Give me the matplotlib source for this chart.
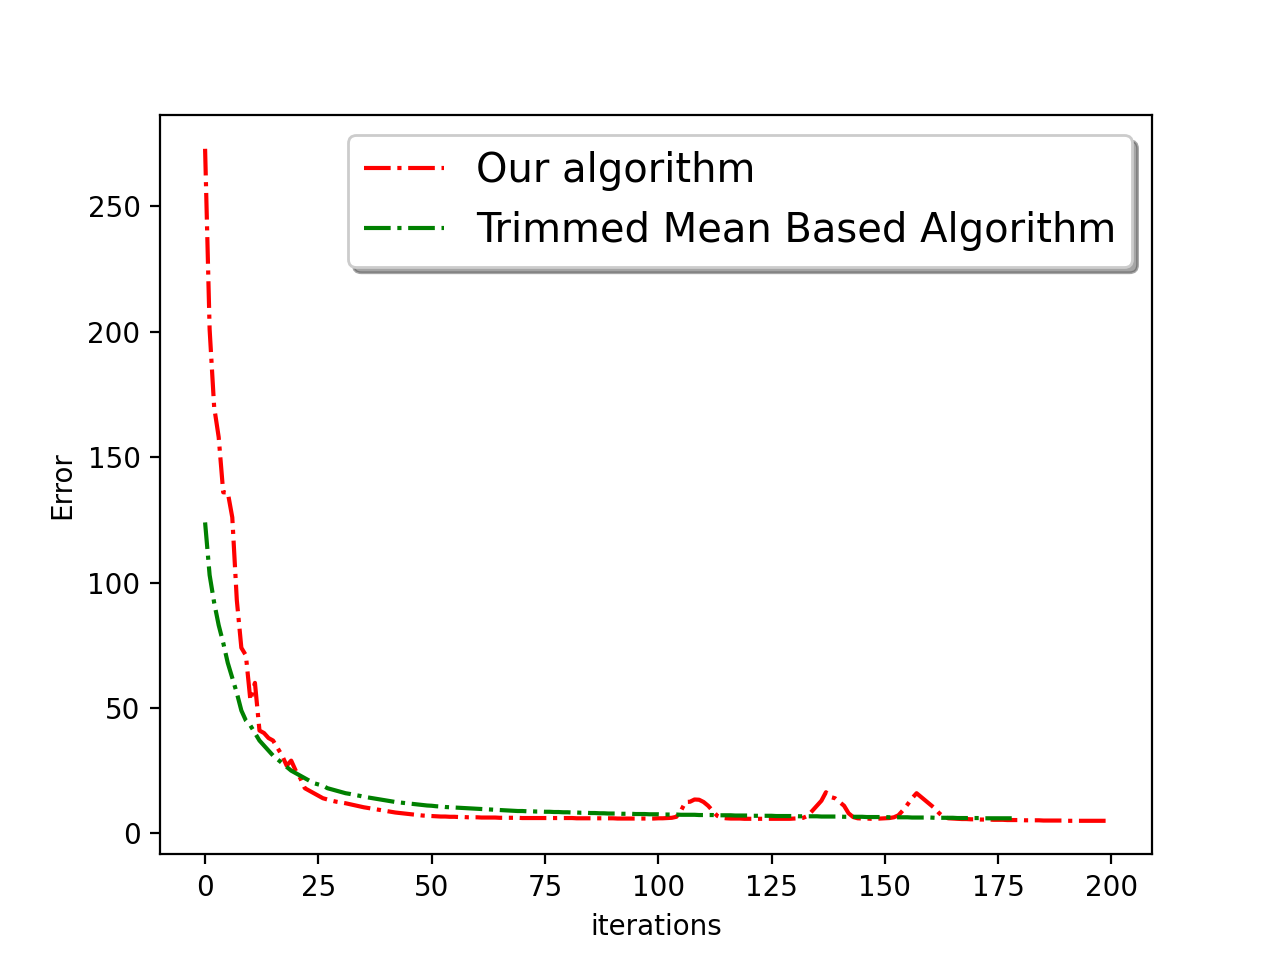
import matplotlib as mpl
mpl.use('Agg')
from matplotlib import pyplot as plt
import numpy as np

# error per iteration
err_ours = [
    273, 201, 170, 158, 136, 136, 126, 93, 74, 71,
    53, 60, 41, 40, 38, 37, 34, 31, 27, 29,
    25, 22, 18, 17, 16, 15, 14, 13.5, 13, 12.6,
    12.3, 12, 11.6, 11.2, 10.8, 10.4, 10.1, 9.8, 9.5, 9.2,
    8.9, 8.6, 8.3, 8.1, 7.9, 7.7, 7.5, 7.3, 7.1, 7.0,
    6.9, 6.8, 6.7, 6.7, 6.6, 6.6, 6.5, 6.5, 6.4, 6.4,
    6.4, 6.3, 6.3, 6.3, 6.3, 6.2, 6.2, 6.2, 6.2, 6.2,
    6.1, 6.1, 6.1, 6.1, 6.1, 6.1, 6.1, 6.1, 6.1, 6.1,
    6.1, 6.1, 6.0, 6.0, 6.0, 6.0, 6.0, 6.0, 6.0, 6.0,
    6.0, 5.9, 5.9, 5.9, 5.9, 5.9, 5.9, 5.9, 5.9, 5.9,
    6.0, 6.0, 6.1, 6.2, 6.6, 9.0, 12.5, 12.6, 13.5, 13.4,
    12.5, 11.0, 9.0, 7.0, 6.2, 6.0, 5.9, 5.9, 5.9, 5.8,
    5.8, 5.8, 5.8, 5.8, 5.8, 5.8, 5.8, 5.8, 5.8, 5.8,
    5.9, 6.0, 6.2, 7.0, 9.0, 11.0, 13.0, 16.4, 14.5, 14.0,
    12.5, 11.0, 8.0, 6.5, 6.0, 5.9, 5.9, 5.8, 5.8, 5.9,
    6.0, 6.1, 6.4, 7.2, 9.2, 11.5, 14.0, 16.0, 14.5, 13.0,
    11.5, 10.0, 8.0, 6.5, 6.0, 5.9, 5.8, 5.7, 5.7, 5.6,
    5.6, 5.5, 5.5, 5.5, 5.4, 5.4, 5.4, 5.3, 5.3, 5.3,
    5.3, 5.2, 5.2, 5.2, 5.2, 5.1, 5.1, 5.1, 5.1, 5.1,
    5.0, 5.0, 5.0, 5.0, 5.0, 5.0, 5.0, 5.0, 5.0, 5.0,
]

err_trimmed = [
    124, 103, 92, 83, 76, 68, 62, 56, 49, 45,
    43, 40, 37, 35, 33, 31, 29.5, 28, 26.5, 25,
    24, 23, 22, 21, 20, 19.5, 19, 18, 17.5, 17,
    16.5, 16, 15.7, 15.3, 15, 14.6, 14.3, 14, 13.7, 13.4,
    13.1, 12.8, 12.5, 12.3, 12.1, 11.9, 11.7, 11.5, 11.3, 11.1,
    11.0, 10.8, 10.7, 10.5, 10.4, 10.3, 10.2, 10.1, 10.0, 9.9,
    9.8, 9.7, 9.6, 9.5, 9.4, 9.3, 9.2, 9.1, 9.0, 8.9,
    8.9, 8.8, 8.8, 8.7, 8.7, 8.6, 8.6, 8.5, 8.5, 8.4,
    8.4, 8.3, 8.3, 8.2, 8.2, 8.1, 8.1, 8.0, 8.0, 7.9,
    7.9, 7.9, 7.8, 7.8, 7.8, 7.7, 7.7, 7.7, 7.6, 7.6,
    7.6, 7.5, 7.5, 7.5, 7.5, 7.4, 7.4, 7.4, 7.4, 7.3,
    7.3, 7.3, 7.3, 7.2, 7.2, 7.2, 7.2, 7.1, 7.1, 7.1,
    7.1, 7.0, 7.0, 7.0, 7.0, 7.0, 6.9, 6.9, 6.9, 6.9,
    6.9, 6.8, 6.8, 6.8, 6.8, 6.8, 6.7, 6.7, 6.7, 6.7,
    6.7, 6.6, 6.6, 6.6, 6.6, 6.6, 6.5, 6.5, 6.5, 6.5,
    6.5, 6.4, 6.4, 6.4, 6.4, 6.4, 6.3, 6.3, 6.3, 6.3,
    6.3, 6.2, 6.2, 6.2, 6.2, 6.2, 6.1, 6.1, 6.1, 6.1,
    6.1, 6.1, 6.0, 6.0, 6.0, 6.0, 6.0, 6.0, 6.0,
]

fig, ax = plt.subplots(figsize=(6.4, 4.8), dpi=200)
ax.plot(np.arange(len(err_ours)), err_ours, 'r-.', label='Our algorithm')
ax.plot(np.arange(len(err_trimmed)), err_trimmed, 'g-.', label='Trimmed Mean Based Algorithm')
ax.set_xlabel('iterations')
ax.set_ylabel('Error')
ax.legend(loc='upper right', shadow=True, fontsize='x-large')
fig.savefig('out.png', dpi=200)
